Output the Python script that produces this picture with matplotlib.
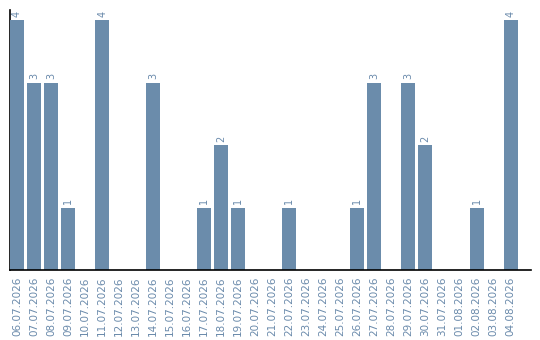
import matplotlib
matplotlib.use("Agg")
import matplotlib.pyplot as plt

dates = ["06.07.2026", "07.07.2026", "08.07.2026", "09.07.2026", "10.07.2026",
         "11.07.2026", "12.07.2026", "13.07.2026", "14.07.2026", "15.07.2026",
         "16.07.2026", "17.07.2026", "18.07.2026", "19.07.2026", "20.07.2026",
         "21.07.2026", "22.07.2026", "23.07.2026", "24.07.2026", "25.07.2026",
         "26.07.2026", "27.07.2026", "28.07.2026", "29.07.2026", "30.07.2026",
         "31.07.2026", "01.08.2026", "02.08.2026", "03.08.2026", "04.08.2026"]
counts = [4, 3, 3, 1, 0, 4, 0, 0, 3, 0,
          0, 1, 2, 1, 0, 0, 1, 0, 0, 0,
          1, 3, 0, 3, 2, 0, 0, 1, 0, 4]

bar_color = "#6b8cab"
text_color = "#6a8aab"

fig = plt.figure(figsize=(5.4, 3.4), dpi=100)
ax = fig.add_axes([10 / 540, 70 / 340, 521 / 540, 260 / 340])

x = list(range(len(dates)))
ax.bar(x, counts, width=14 / 17, color=bar_color, zorder=3)

for xi, v in zip(x, counts):
    if v > 0:
        ax.text(xi, v + 0.05, str(v), rotation=90, ha="center", va="bottom",
                fontsize=7, color=text_color)

ax.set_xlim(-7 / 17, 30.2)
ax.set_ylim(0, 4.16)
ax.set_xticks(x)
ax.set_xticklabels(dates, rotation=90, fontsize=7.5, color=text_color)
ax.tick_params(axis="x", length=0, pad=5)
ax.set_yticks([])
for side in ("top", "right"):
    ax.spines[side].set_visible(False)
for side in ("left", "bottom"):
    ax.spines[side].set_color("black")
    ax.spines[side].set_linewidth(1.2)
ax.spines["left"].set_zorder(2)
ax.spines["bottom"].set_zorder(4)

fig.savefig("out.png", dpi=100)
